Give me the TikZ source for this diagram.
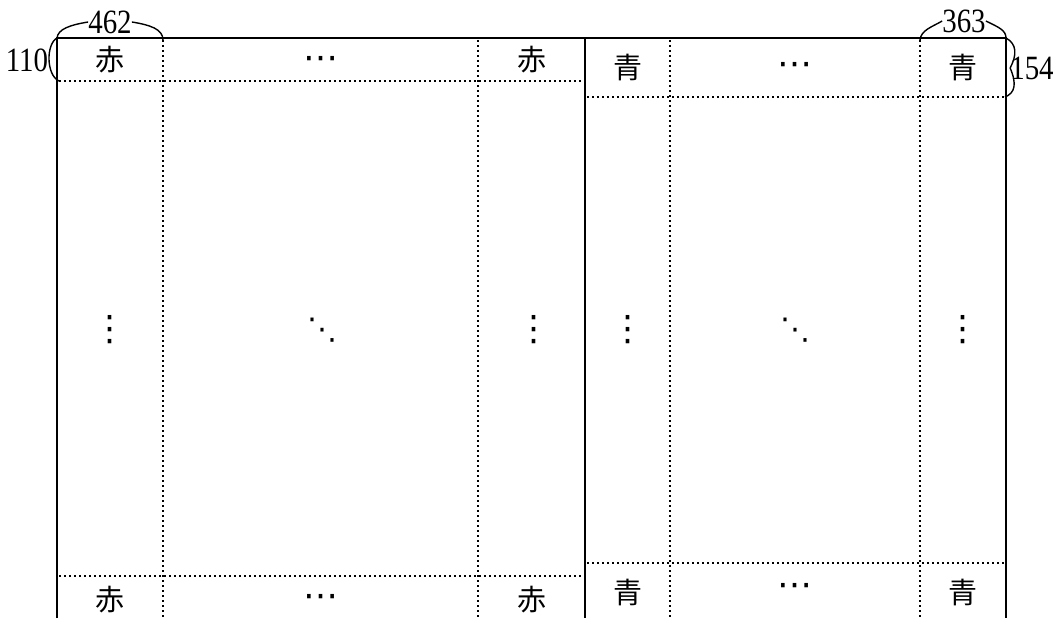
\documentclass[tikz,border=0pt]{standalone}
\usepackage{graphicx}
\usepackage{fontspec}
\setmainfont{Liberation Serif}
\newfontfamily\cjk{Noto Sans CJK JP}
\newfontfamily\symf{DejaVu Sans}
\begin{document}
\begin{tikzpicture}[x=1pt,y=-1pt,
  frame/.style={line width=2.7pt},
  dotline/.style={line width=2.3pt, dash pattern=on 2.2pt off 2.8pt},
  bracearc/.style={line width=1.4pt},
  kanji/.style={font=\cjk\fontsize{29}{29}\selectfont, inner sep=0pt},
  num/.style={font=\fontsize{34}{34}\selectfont, inner sep=0pt},
  dotsym/.style={font=\symf\fontsize{35}{35}\selectfont, inner sep=0pt},
  ddotsym/.style={font=\symf\fontsize{30}{30}\selectfont, inner sep=0pt}]
\useasboundingbox (0,0) rectangle (1056,618);
% frame corners
\coordinate (TL) at (57,38);
\coordinate (TM) at (585,38);
\coordinate (TR) at (1006,38);
\coordinate (BL) at (57,618);
\coordinate (BM) at (585,618);
\coordinate (BR) at (1006,618);
% outer frame (open at the bottom)
\draw[frame] (BL) -- (TL) -- (TR) -- (BR);
\draw[frame] (TM) -- (BM);
% left block grid
\coordinate (L1t) at (163,40);  \coordinate (L1b) at (163,618);
\coordinate (L2t) at (478,40);  \coordinate (L2b) at (478,618);
\coordinate (Lh1a) at (59,81);  \coordinate (Lh1b) at (584,81);
\coordinate (Lh2a) at (59,576); \coordinate (Lh2b) at (584,576);
\draw[dotline] (L1t) -- (L1b);
\draw[dotline] (L2t) -- (L2b);
\draw[dotline] (Lh1a) -- (Lh1b);
\draw[dotline] (Lh2a) -- (Lh2b);
% right block grid
\coordinate (R1t) at (670,40);  \coordinate (R1b) at (670,618);
\coordinate (R2t) at (920,40);  \coordinate (R2b) at (920,618);
\coordinate (Rh1a) at (587,97);  \coordinate (Rh1b) at (1005,97);
\coordinate (Rh2a) at (587,563); \coordinate (Rh2b) at (1005,563);
\draw[dotline] (R1t) -- (R1b);
\draw[dotline] (R2t) -- (R2b);
\draw[dotline] (Rh1a) -- (Rh1b);
\draw[dotline] (Rh2a) -- (Rh2b);
% left block texts
\node[kanji] (a11) at (110,60) {赤};
\node[dotsym] (a12) at (321,63) {⋯};
\node[kanji] (a13) at (532,60) {赤};
\node[dotsym] (a21) at (110,330) {⋮};
\node[ddotsym] (a22) at (322,330) {⋱};
\node[dotsym] (a23) at (534,330) {⋮};
\node[kanji] (a31) at (110,600) {赤};
\node[dotsym] (a32) at (321,601) {⋯};
\node[kanji] (a33) at (532,600) {赤};
% right block texts
\node[kanji] (b11) at (628,68) {青};
\node[dotsym] (b12) at (795,69) {⋯};
\node[kanji] (b13) at (963,68) {青};
\node[dotsym] (b21) at (628,330) {⋮};
\node[ddotsym] (b22) at (795,330) {⋱};
\node[dotsym] (b23) at (963,330) {⋮};
\node[kanji] (b31) at (628,592) {青};
\node[dotsym] (b32) at (795,590) {⋯};
\node[kanji] (b33) at (963,592) {青};
% dimension labels
\node[num] (n462) at (110,22) {\scalebox{0.85}[1]{462}};
\node[num] (n110) at (27,60) {\scalebox{0.85}[1]{110}};
\node[num] (n363) at (964,21) {\scalebox{0.85}[1]{363}};
\node[num] (n154) at (1032,68) {\scalebox{0.85}[1]{154}};
% braces
\draw[bracearc] (TL) .. controls (58,29) and (70,25) .. (n462.west);
\draw[bracearc] (n462.east) .. controls (150,25) and (163,29) .. (L1t);
\draw[bracearc] (TL) .. controls (46,44) and (46,75) .. (Lh1a);
\draw[bracearc] (R2t) .. controls (921,30) and (932,27) .. (n363.west);
\draw[bracearc] (n363.east) .. controls (998,27) and (1006,30) .. (TR);
\draw[bracearc] (TR) .. controls (1017,44) and (1017,55) .. (n154.west);
\draw[bracearc] (n154.west) .. controls (1017,84) and (1015,93) .. (Rh1b);
\end{tikzpicture}
\end{document}
